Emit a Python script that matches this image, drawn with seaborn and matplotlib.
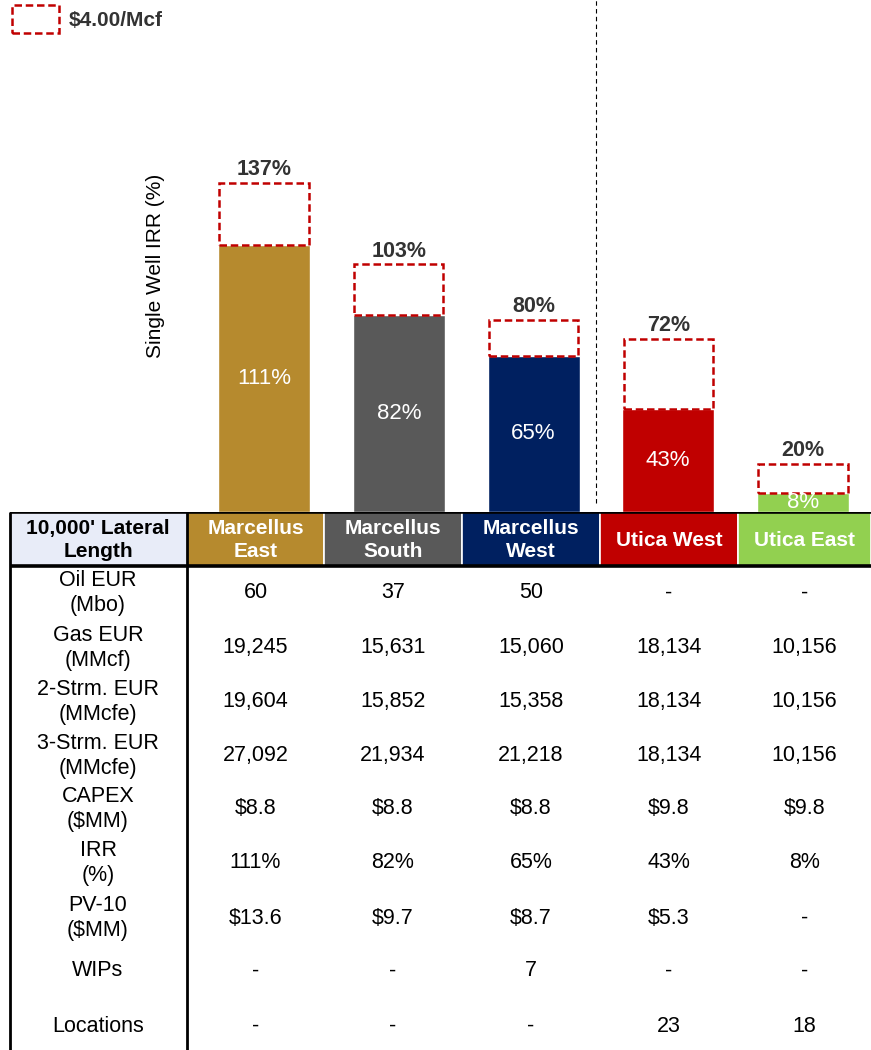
import pandas as pd
import matplotlib.pyplot as plt
import seaborn as sns
from matplotlib.patches import Patch, Rectangle

# chart values
areas = ["Marcellus East", "Marcellus South", "Marcellus West", "Utica West", "Utica East"]
header_labels = ["Marcellus\nEast", "Marcellus\nSouth", "Marcellus\nWest", "Utica West", "Utica East"]
irr_base = [111, 82, 65, 43, 8]
irr_strip = [137, 103, 80, 72, 20]
colors = ["#B68A2E", "#595959", "#002060", "#C00000", "#92D050"]

row_labels = ["Oil EUR\n(Mbo)", "Gas EUR\n(MMcf)", "2-Strm. EUR\n(MMcfe)", "3-Strm. EUR\n(MMcfe)",
              "CAPEX\n($MM)", "IRR\n(%)", "PV-10\n($MM)", "WIPs", "Locations"]
oil_eur = ["60", "37", "50", "-", "-"]
gas_eur = ["19,245", "15,631", "15,060", "18,134", "10,156"]
eur_2s = ["19,604", "15,852", "15,358", "18,134", "10,156"]
eur_3s = ["27,092", "21,934", "21,218", "18,134", "10,156"]
capex = ["$8.8", "$8.8", "$8.8", "$9.8", "$9.8"]
irr_row = ["111%", "82%", "65%", "43%", "8%"]
pv10 = ["$13.6", "$9.7", "$8.7", "$5.3", "-"]
wips = ["-", "-", "7", "-", "-"]
locations = ["-", "-", "-", "23", "18"]
table_rows = [oil_eur, gas_eur, eur_2s, eur_3s, capex, irr_row, pv10, wips, locations]

df = pd.DataFrame({"area": areas, "base": irr_base, "strip": irr_strip})

sns.set_style("white")
plt.rcParams["font.family"] = ["Liberation Sans", "DejaVu Sans"]
plt.rcParams["text.parse_math"] = False

W, H = 871, 1050
fig = plt.figure(figsize=(W / 100, H / 100), dpi=100)

# ---- bar chart (top part) ----
base_px = 512
ax = fig.add_axes([0, (H - base_px) / H, 1, base_px / H])
px_per_cat = 134.75
bw = 92 / px_per_cat

sns.barplot(data=df, x="area", y="base", hue="area", palette=colors, legend=False,
            width=bw, saturation=1, ax=ax)
ax.bar(range(len(areas)), df["strip"] - df["base"], bottom=df["base"], width=bw * 0.97,
       fill=False, edgecolor="#C00000", linestyle=(0, (3, 1.5)), linewidth=1.8)

ax.set_xlim(-264 / px_per_cat, 4 + (W - 803) / px_per_cat)
ax.set_ylim(0, base_px / 2.405)

for i, (b, s) in enumerate(zip(irr_base, irr_strip)):
    ax.text(i, b / 2, f"{b}%", ha="center", va="center", color="white", fontsize=16)
    ax.annotate(f"{s}%", (i, s), xytext=(0, 2), textcoords="offset points",
                ha="center", va="bottom", fontsize=15.5, fontweight="bold", color="#333333")

ax.axvline(2.465, ymin=(base_px - 503) / base_px, ymax=1, color="black",
           linestyle=(0, (4, 3)), linewidth=0.8)

ax.set_xlabel("")
ax.set_ylabel("Single Well IRR (%)", fontsize=15, color="black")
ax.yaxis.set_label_coords(0.19, 0.48)
ax.set_xticks([])
ax.set_yticks([])
sns.despine(ax=ax, left=True, bottom=True)

handle = Patch(facecolor="none", edgecolor="#C00000", linestyle=(0, (3, 1.5)), linewidth=1.8)
leg = ax.legend(handles=[handle], labels=["$4.00/Mcf"], loc="upper left",
                bbox_to_anchor=(0.008, 1.0), frameon=False, handlelength=2.25,
                handleheight=1.65, handletextpad=0.45, borderaxespad=0.1, borderpad=0.15,
                prop={"weight": "bold", "size": 15})
for t in leg.get_texts():
    t.set_color("#333333")

# ---- table (bottom part) ----
tab = fig.add_axes([0, 0, 1, (H - base_px) / H])
tab.set_xlim(0, W)
tab.set_ylim(H, base_px)
tab.axis("off")

col_edges = [187, 324, 462, 600, 738, W]
col_centers = [(a + b) / 2 for a, b in zip(col_edges[:-1], col_edges[1:])]
hdr_top, hdr_bot = 512, 566

tab.add_patch(Rectangle((10, hdr_top), 177, hdr_bot - hdr_top, facecolor="#E8ECF8", edgecolor="none"))
tab.text(98, (hdr_top + hdr_bot) / 2 + 1, "10,000' Lateral\nLength", ha="center", va="center",
         fontsize=15, fontweight="bold", color="black", linespacing=1.3)
for j in range(len(areas)):
    x0, x1 = col_edges[j], col_edges[j + 1]
    tab.add_patch(Rectangle((x0, hdr_top), x1 - x0, hdr_bot - hdr_top,
                            facecolor=colors[j], edgecolor="white", linewidth=1.2))
    tab.text(col_centers[j], (hdr_top + hdr_bot) / 2 + 1, header_labels[j], ha="center", va="center",
             fontsize=15, fontweight="bold", color="white", linespacing=1.3)

tab.plot([10, W], [hdr_top, hdr_top], color="black", linewidth=2.6, solid_capstyle="butt")
tab.plot([10, W], [hdr_bot, hdr_bot], color="black", linewidth=2.6, solid_capstyle="butt")
tab.plot([10, 10], [hdr_top, H], color="black", linewidth=2, solid_capstyle="butt")
tab.plot([187, 187], [hdr_top, H], color="black", linewidth=2, solid_capstyle="butt")

row_centers = [593, 648, 702, 756, 809, 863, 918, 971, 1026]
for label, vals, yc in zip(row_labels, table_rows, row_centers):
    tab.text(98, yc, label, ha="center", va="center", fontsize=15.5, color="black", linespacing=1.25)
    for xc, v in zip(col_centers, vals):
        tab.text(xc, yc, v, ha="center", va="center", fontsize=15.5, color="black")

fig.savefig("out.png", dpi=100)
